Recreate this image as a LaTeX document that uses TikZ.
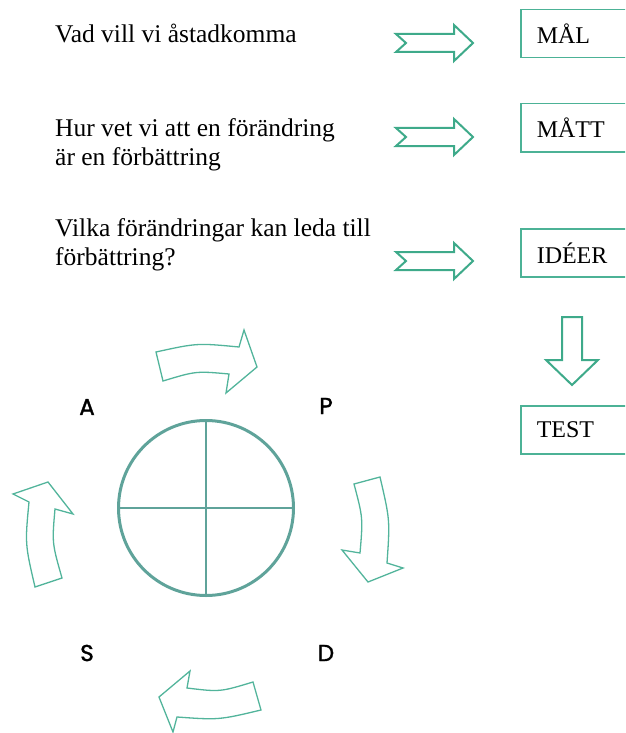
\documentclass[tikz,border=0pt]{standalone}
\usepackage{fontspec}
\setmainfont{Liberation Serif}
\newfontfamily\phasefont[FakeBold=1.6]{Poppins}
\usepackage{tikz}
\usepackage{xcolor}

\definecolor{arrowgreen}{RGB}{62,170,138}
\definecolor{boxgreen}{RGB}{76,178,150}
\definecolor{circlegreen}{RGB}{95,163,154}
\definecolor{cyclegreen}{RGB}{82,180,155}

\tikzset{
  question/.style={anchor=base west,inner sep=0pt,align=left,font=\fontsize{25.5}{29}\selectfont},
  box/.style={draw=boxgreen,line width=1.5pt,anchor=north west,minimum height=48pt,text width=100pt,inner xsep=16pt,align=left,font=\fontsize{24}{28}\selectfont},
  phase/.style={font=\phasefont\fontsize{23}{26}\selectfont},
  fat arrow/.style={draw=arrowgreen,line width=2pt,line join=miter},
  cycle arrow/.style={draw=cyclegreen,line width=1.3pt,line join=miter},
  rightarrow/.pic={\path[fat arrow] (0,-9) -- (10,0) -- (0,9) -- (58,9) -- (58,18) -- (77,0) -- (58,-18) -- (58,-9) -- cycle;},
  downarrow/.pic={\path[fat arrow] (-10,0) -- (10,0) -- (10,43) -- (26,43) -- (0,68) -- (-26,43) -- (-10,43) -- cycle;}
}

\begin{document}
\begin{tikzpicture}[x=1pt,y=-1pt]
      \clip (0,0) rectangle (625,733);
      \node [question] (goal) at (55,43) {Vad vill vi åstadkomma};
      \node [question] (measure) at (55,165) {Hur vet vi att en förändring\\är en förbättring};
      \node [question] (ideas) at (55,265) {Vilka förändringar kan leda till\\förbättring?};
      \pic at (396,43) {rightarrow};
      \pic at (396,137) {rightarrow};
      \pic at (396,261) {rightarrow};
      \node [box] (mal) at (520,9) {MÅL};
      \node [box] (matt) at (520,103) {MÅTT};
      \node [box] (ideer) at (520,228) {IDÉER};
      \node [box] (test) at (520,405) {TEST};
      \pic at (572,317) {downarrow};
      \node [draw=circlegreen,line width=3pt,circle,minimum size=175pt,inner sep=0pt] (pdsa) at (206,508) {};
      \draw [circlegreen,line width=2.5pt] (pdsa.north) -- (pdsa.south);
      \draw [circlegreen,line width=2.5pt] (pdsa.west) -- (pdsa.east);
      \node [phase] (act) at (87,407) {A};
      \node [phase] (plan) at (326,406) {P};
      \node [phase] (study) at (87,653) {S};
      \node [phase] (do) at (326,653) {D};
      \draw [cycle arrow] (156,352) .. controls (197,343) .. (239,347) -- (244,330) -- (257,367) -- (226,393) -- (229,374) .. controls (196,371) .. (163,381) -- cycle;
      \draw [cycle arrow] (354,484) -- (380,477) .. controls (390,520) .. (387,563) -- (403,568) -- (368,582) -- (342,550) -- (360,553) .. controls (363,518) .. (354,484) -- cycle;
      \draw [cycle arrow] (253,682) .. controls (220,692) .. (187,688) -- (190,671) -- (159,697) -- (173,732) -- (177,717) .. controls (219,720) .. (261,710) -- cycle;
      \draw [cycle arrow] (35,587) .. controls (25,544) .. (29,502) -- (13,494) -- (48,482) -- (73,514) -- (55,509) .. controls (52,543) .. (62,578) -- cycle;
    \end{tikzpicture}
\end{document}
